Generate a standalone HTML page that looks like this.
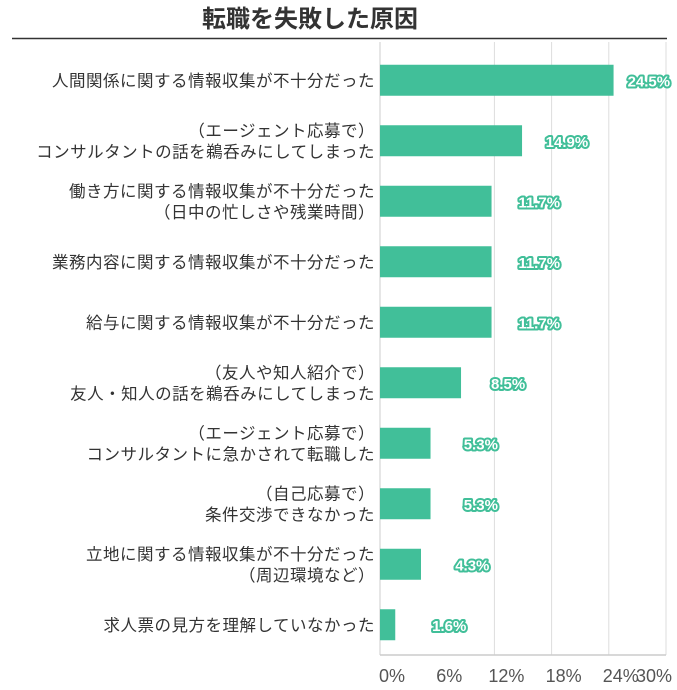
<!DOCTYPE html>
<html><head><meta charset="utf-8"><style>
body{margin:0;background:#fff;width:677px;height:685px;overflow:hidden;font-family:"Liberation Sans","Noto Sans CJK JP",sans-serif}
</style></head><body>
<svg width="677" height="685" xmlns="http://www.w3.org/2000/svg">
<text x="310" y="27" text-anchor="middle" font-size="24" font-weight="bold" fill="#333" font-family="Liberation Sans, Noto Sans CJK JP, sans-serif">転職を失敗した原因</text>
<line x1="12" y1="38.5" x2="667" y2="38.5" stroke="#333" stroke-width="1.5"/>
<g id="grid"></g><g id="bars"></g><g id="labels"></g><g id="ticks"></g>
</svg>
<script>
const categories=[["人間関係に関する情報収集が不十分だった"],["（エージェント応募で）","コンサルタントの話を鵜呑みにしてしまった"],["働き方に関する情報収集が不十分だった","（日中の忙しさや残業時間）"],["業務内容に関する情報収集が不十分だった"],["給与に関する情報収集が不十分だった"],["（友人や知人紹介で）","友人・知人の話を鵜呑みにしてしまった"],["（エージェント応募で）","コンサルタントに急かされて転職した"],["（自己応募で）","条件交渉できなかった"],["立地に関する情報収集が不十分だった","（周辺環境など）"],["求人票の見方を理解していなかった"]];
const values=[24.5,14.9,11.7,11.7,11.7,8.5,5.3,5.3,4.3,1.6];
const ticks=[0,6,12,18,24,30];
const gridTicks=[0,12,18,24,30];
const NS="http://www.w3.org/2000/svg";
const x0=380,x1=666,yTop=50,yBot=655;
const xs=v=>x0+(v/30)*(x1-x0);
const rowH=(yBot-yTop)/values.length;
const yc=i=>yTop+rowH*(i+0.5);
function mk(tag,attrs,parent){const e=document.createElementNS(NS,tag);for(const k in attrs)e.setAttribute(k,attrs[k]);document.getElementById(parent).appendChild(e);return e;}
gridTicks.forEach(t=>{const l=mk("line",{x1:xs(t),x2:xs(t),y1:yTop-8,y2:yBot,stroke:t===0?"#ccc":"#ddd","stroke-width":1},"grid");

});
const ax=mk("line",{x1:x0,x2:x1,y1:yBot,y2:yBot,stroke:"#ccc","stroke-width":1.5},"grid");


values.forEach((v,i)=>{
const b=mk("rect",{x:x0,y:yc(i)-15.5,width:xs(v)-x0,height:31,fill:"#41bf99"},"bars");


const t=mk("text",{x:xs(v)+14+(24.5-v),y:yc(i)+6,"font-size":15,"font-weight":"bold",fill:"#fff",stroke:"#41bf99","stroke-width":4,"paint-order":"stroke","stroke-linejoin":"round"},"bars");
t.textContent=v.toFixed(1)+"%";


const lines=categories[i];
lines.forEach((s,j)=>{const c=mk("text",{x:375,y:yc(i)+6+(j-(lines.length-1)/2)*21,"text-anchor":"end","font-size":16.5,"letter-spacing":"0.5",fill:"#333"},"labels");
c.textContent=s;

});
});
ticks.forEach(t=>{const e=mk("text",{x:Math.min(xs(t)+12,654),y:682,"text-anchor":"middle","font-size":18,fill:"#555"},"ticks");
e.textContent=t+"%";

});
</script>
</body></html>
